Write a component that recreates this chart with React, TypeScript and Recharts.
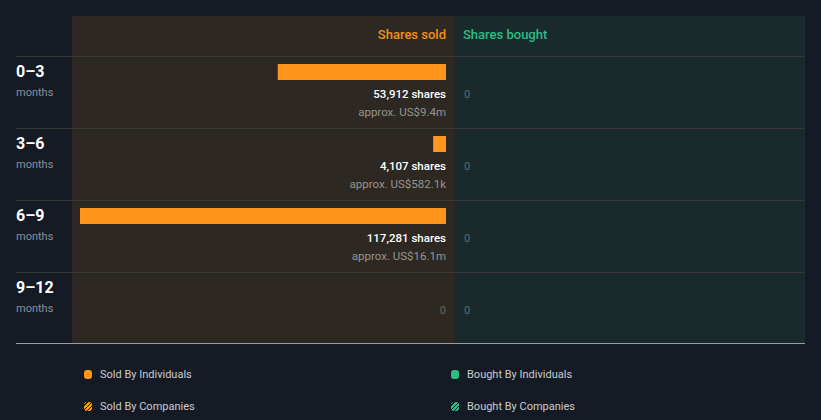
import React from 'react';
import { BarChart, Bar, XAxis, YAxis, LabelList } from 'recharts';

const periods = ['0–3', '3–6', '6–9', '9–12'];
const soldShares = [53912, 4107, 117281, 0];
const soldValue = ['US$9.4m', 'US$582.1k', 'US$16.1m', ''];
const boughtShares = [0, 0, 0, 0];

const data = periods.map((p, i) => ({
  period: p,
  sold: soldShares[i],
  soldUsd: soldValue[i],
  bought: boughtShares[i],
}));

const BG = '#151b25';
const ORANGE = '#ff951a';
const GREEN = '#2ebd85';
const FONT = 'Roboto, "Noto Sans", sans-serif';

const PeriodTick = (props: any) => {
  const { y, payload } = props;
  return (
    <g>
      <text x={16} y={y - 21} dominantBaseline="central" fill="#fff" fontSize={16} fontWeight={700} fontFamily={FONT}>
        {payload.value}
      </text>
      <text x={16} y={y} dominantBaseline="central" fill="#8b9098" fontSize={11} fontFamily={FONT}>
        months
      </text>
    </g>
  );
};

const SoldBar = (props: any) => {
  const { x, y, width, height } = props;
  if (!width) return null;
  const left = Math.min(x, x + width);
  return <rect x={left} y={y - 20} width={Math.abs(width)} height={height} fill={ORANGE} />;
};

const BoughtBar = (props: any) => {
  const { x, y, width, height } = props;
  if (!width) return null;
  return <rect x={x} y={y - 20} width={width} height={height} fill={GREEN} />;
};

const SoldLabel = (props: any) => {
  const { x, y, width, index } = props;
  const right = Math.max(x, x + (width || 0));
  const v = soldShares[index];
  if (!v) {
    return (
      <text x={right} y={y + 10} textAnchor="end" dominantBaseline="central" fill="#6b6762" fontSize={11} fontFamily={FONT}>
        0
      </text>
    );
  }
  return (
    <g fontFamily={FONT}>
      <text x={right} y={y + 10} textAnchor="end" dominantBaseline="central" fill="#fff" fontSize={11.5} fontWeight={500}>
        {v.toLocaleString('en-US')} shares
      </text>
      <text x={right} y={y + 28} textAnchor="end" dominantBaseline="central" fill="#98948f" fontSize={11.5}>
        approx. {soldValue[index]}
      </text>
    </g>
  );
};

const BoughtLabel = (props: any) => {
  const { x, y, index } = props;
  return (
    <text x={x + 1} y={y + 10} dominantBaseline="central" fill="#5c6e6e" fontSize={11} fontFamily={FONT}>
      {boughtShares[index]}
    </text>
  );
};

const LegendItem = ({ left, top, color, striped, label }: any) => (
  <div style={{ position: 'absolute', left, top, display: 'flex', alignItems: 'center', fontFamily: FONT, fontSize: 11, color: '#c9cbcf' }}>
    <span
      style={{
        width: 8,
        height: 9,
        borderRadius: 3,
        marginRight: 8,
        background: striped
          ? `repeating-linear-gradient(135deg, ${color} 0 2px, ${BG} 2px 3px)`
          : color,
      }}
    />
    {label}
  </div>
);

const rowLines = [56, 128, 200, 272];

export default function App() {
  return (
    <div style={{ position: 'absolute', left: 0, top: 0, width: 821, height: 420, background: BG, overflow: 'hidden' }}>
      <div style={{ position: 'absolute', left: 72, top: 16, width: 383, height: 327, background: '#2d2822' }} />
      <div style={{ position: 'absolute', left: 455, top: 16, width: 350, height: 327, background: '#192a2c' }} />
      <div style={{ position: 'absolute', left: 72, width: 374, top: 27, textAlign: 'right', color: '#f39019', fontFamily: FONT, fontSize: 13, fontWeight: 500 }}>
        Shares sold
      </div>
      <div style={{ position: 'absolute', left: 463, top: 27, color: '#2ebd85', fontFamily: FONT, fontSize: 13, fontWeight: 500 }}>
        Shares bought
      </div>
      {rowLines.map((y) => (
        <div key={y} style={{ position: 'absolute', left: 16, top: y, width: 789, height: 1, background: '#3a3937' }} />
      ))}
      <div style={{ position: 'absolute', left: 16, top: 343, width: 789, height: 1, background: '#9a9c9f' }} />

      <div style={{ position: 'absolute', left: 0, top: 0 }}>
        <BarChart width={455} height={420} data={data} layout="vertical" margin={{ top: 56, bottom: 76, left: 16, right: 9 }} barSize={16} barCategoryGap={0}>
          <XAxis type="number" hide reversed domain={[0, 'dataMax']} />
          <YAxis type="category" dataKey="period" width={64} axisLine={false} tickLine={false} tick={<PeriodTick />} />
          <Bar dataKey="sold" shape={<SoldBar />} isAnimationActive={false}>
            <LabelList dataKey="sold" content={<SoldLabel />} />
          </Bar>
        </BarChart>
      </div>

      <div style={{ position: 'absolute', left: 455, top: 0 }}>
        <BarChart width={350} height={420} data={data} layout="vertical" margin={{ top: 56, bottom: 76, left: 8, right: 10 }} barSize={16} barCategoryGap={0}>
          <XAxis type="number" hide domain={[0, 117281]} />
          <YAxis type="category" dataKey="period" width={0} axisLine={false} tickLine={false} tick={false} />
          <Bar dataKey="bought" shape={<BoughtBar />} isAnimationActive={false}>
            <LabelList dataKey="bought" content={<BoughtLabel />} />
          </Bar>
        </BarChart>
      </div>

      <LegendItem left={84} top={368} color={ORANGE} label="Sold By Individuals" />
      <LegendItem left={451} top={368} color={GREEN} label="Bought By Individuals" />
      <LegendItem left={84} top={400} color={ORANGE} striped label="Sold By Companies" />
      <LegendItem left={451} top={400} color={GREEN} striped label="Bought By Companies" />
    </div>
  );
}
